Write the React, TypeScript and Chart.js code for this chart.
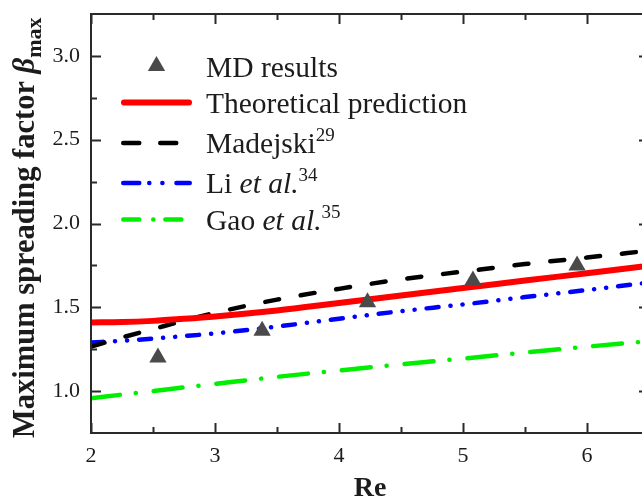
import { useEffect, useRef } from "react";
import { Chart, registerables } from "chart.js";

Chart.register(...registerables);

// Reynolds numbers at which the model curves are sampled
const reGrid = [2.0, 2.25, 2.5, 2.75, 3.0, 3.5, 4.0, 4.5, 5.0, 5.5, 6.0, 6.5];
const theoretical = [1.41, 1.412, 1.419, 1.431, 1.445, 1.481, 1.526, 1.571, 1.615, 1.66, 1.703, 1.748];
const madejski = [1.265, 1.32, 1.37, 1.42, 1.467, 1.546, 1.61, 1.667, 1.713, 1.758, 1.797, 1.838];
const liEtAl = [1.29, 1.3, 1.313, 1.328, 1.344, 1.385, 1.432, 1.477, 1.517, 1.561, 1.603, 1.648];
const gaoEtAl = [0.957, 0.979, 1.0, 1.022, 1.043, 1.085, 1.123, 1.16, 1.194, 1.23, 1.265, 1.298];

// Molecular dynamics results
const mdRe = [2.54, 3.38, 4.23, 5.08, 5.92];
const mdBeta = [1.2, 1.36, 1.53, 1.66, 1.75];

const xTickValues = [2, 3, 4, 5, 6];
const yTickValues = [1.0, 1.5, 2.0, 2.5, 3.0];

const X_MIN = 2;
const X_MAX = 6.5;
const Y_MIN = 0.75;
const Y_MAX = 3.25;

const SERIF = "'Liberation Serif', 'Times New Roman', Times, serif";
const INK = "#1c1c1c";

const toPoints = (xs: number[], ys: number[]) => xs.map((x, i) => ({ x, y: ys[i] }));

// Dash patterns (round caps add roughly the line width to each dash)
const DASH_MADEJSKI = [14, 22];
const DASH_LI = [12, 12, 0.1, 12, 0.1, 12];
const DASH_GAO = [29, 16, 0.1, 18];

const framePlugin = {
  id: "frameAndTicks",
  afterDatasetsDraw(chart: any) {
    const { ctx, chartArea: a, scales } = chart;
    const xs = scales.x;
    const ys = scales.y;
    ctx.save();
    ctx.strokeStyle = "#2a2a2a";
    ctx.lineWidth = 2;
    ctx.lineCap = "butt";
    ctx.strokeRect(a.left, a.top, a.right - a.left, a.bottom - a.top);

    ctx.beginPath();
    for (let v = X_MIN; v <= X_MAX + 1e-9; v += 0.5) {
      const major = Math.abs(v - Math.round(v)) < 1e-9;
      const len = major ? 10 : 6;
      const px = Math.round(xs.getPixelForValue(v)) + 0.5;
      ctx.moveTo(px, a.bottom);
      ctx.lineTo(px, a.bottom - len);
      ctx.moveTo(px, a.top);
      ctx.lineTo(px, a.top + len);
    }
    for (let v = 1.0; v <= 3.0 + 1e-9; v += 0.25) {
      const major = Math.abs(v * 2 - Math.round(v * 2)) < 1e-9;
      const len = major ? 10 : 6;
      const py = Math.round(ys.getPixelForValue(v)) + 0.5;
      ctx.moveTo(a.left, py);
      ctx.lineTo(a.left + len, py);
      ctx.moveTo(a.right, py);
      ctx.lineTo(a.right - len, py);
    }
    ctx.stroke();
    ctx.restore();
  },
};

type Run = { text: string; font: string; dy?: number };

function drawRuns(ctx: CanvasRenderingContext2D, runs: Run[], x: number, y: number) {
  let cx = x;
  for (const r of runs) {
    ctx.font = r.font;
    ctx.fillText(r.text, cx, y + (r.dy || 0));
    cx += ctx.measureText(r.text).width;
  }
  return cx;
}

const labelsPlugin = {
  id: "legendAndTitles",
  afterDraw(chart: any) {
    const ctx: CanvasRenderingContext2D = chart.ctx;
    ctx.save();
    ctx.fillStyle = INK;
    ctx.textBaseline = "alphabetic";
    ctx.textAlign = "left";

    const main = `29.5px ${SERIF}`;
    const ital = `italic 29.5px ${SERIF}`;
    const sup = `19px ${SERIF}`;
    const textX = 206;
    const x0 = 121;
    const x1 = 192;

    // MD results marker
    const tx = 156.5;
    const ty = 66;
    const r = 10;
    ctx.beginPath();
    ctx.moveTo(tx, ty - r);
    ctx.lineTo(tx + r * Math.sin((2 * Math.PI) / 3), ty - r * Math.cos((2 * Math.PI) / 3));
    ctx.lineTo(tx + r * Math.sin((4 * Math.PI) / 3), ty - r * Math.cos((4 * Math.PI) / 3));
    ctx.closePath();
    ctx.fillStyle = "#4a4a4a";
    ctx.fill();
    ctx.fillStyle = INK;
    drawRuns(ctx, [{ text: "MD results", font: main }], textX, 76.5);

    const sample = (y: number, color: string, width: number, dash: number[]) => {
      ctx.save();
      ctx.strokeStyle = color;
      ctx.lineWidth = width;
      ctx.lineCap = "round";
      ctx.setLineDash(dash);
      ctx.beginPath();
      ctx.moveTo(x0 + width / 2, y);
      ctx.lineTo(x1 - width / 2, y);
      ctx.stroke();
      ctx.restore();
    };

    sample(102.5, "#ff0000", 6, []);
    drawRuns(ctx, [{ text: "Theoretical prediction", font: main }], textX, 112.5);

    sample(143, "#000000", 4.5, [16, 21]);
    drawRuns(ctx, [
      { text: "Madejski", font: main },
      { text: "29", font: sup, dy: -12 },
    ], textX, 153);

    sample(183, "#0000ff", 4.5, [16, 10, 0.1, 13, 0.1, 14]);
    drawRuns(ctx, [
      { text: "Li ", font: main },
      { text: "et al.", font: ital },
      { text: "34", font: sup, dy: -12 },
    ], textX, 193);

    sample(219.5, "#00ee00", 4.5, [16, 14, 0.1, 12]);
    drawRuns(ctx, [
      { text: "Gao ", font: main },
      { text: "et al.", font: ital },
      { text: "35", font: sup, dy: -12 },
    ], textX, 229.5);

    // x-axis title
    ctx.font = `bold 28px ${SERIF}`;
    ctx.textAlign = "center";
    ctx.fillText("Re", 370, 496);

    // y-axis title, read bottom to top
    ctx.textAlign = "left";
    ctx.translate(34, 438);
    ctx.rotate(-Math.PI / 2);
    drawRuns(ctx, [
      { text: "Maximum spreading factor ", font: `bold 30.5px ${SERIF}` },
      { text: "\u03B2", font: `bold italic 30.5px ${SERIF}` },
      { text: "max", font: `bold 22px ${SERIF}`, dy: 7 },
    ], 0, 0);
    ctx.restore();
  },
};

export default function App() {
  const canvasRef = useRef<HTMLCanvasElement>(null);

  useEffect(() => {
    const canvas = canvasRef.current;
    if (!canvas) return;
    const lineDs = (label: string, ys: number[], color: string, width: number, dash: number[]) => ({
      label,
      data: toPoints(reGrid, ys),
      showLine: true,
      borderColor: color,
      borderWidth: width,
      borderDash: dash,
      borderCapStyle: dash.length ? "round" : "butt",
      pointRadius: 0,
      pointHoverRadius: 0,
      cubicInterpolationMode: "monotone",
      fill: false,
    });

    const chart = new Chart(canvas, {
      type: "scatter",
      data: {
        datasets: [
          {
            label: "MD results",
            data: toPoints(mdRe, mdBeta),
            pointStyle: "triangle",
            pointRadius: 10,
            pointHoverRadius: 10,
            backgroundColor: "#4a4a4a",
            borderColor: "#4a4a4a",
            borderWidth: 0,
            showLine: false,
          },
          lineDs("Theoretical prediction", theoretical, "#ff0000", 6, []),
          lineDs("Madejski", madejski, "#000000", 4.5, DASH_MADEJSKI),
          lineDs("Li et al.", liEtAl, "#0000ff", 4.5, DASH_LI),
          lineDs("Gao et al.", gaoEtAl, "#00ee00", 4.5, DASH_GAO),
        ] as any,
      },
      options: {
        responsive: false,
        animation: false,
        devicePixelRatio: 1,
        events: [],
        layout: { padding: { top: 14, right: 11, left: 0, bottom: 0 } },
        plugins: {
          legend: { display: false },
          tooltip: { enabled: false },
          title: { display: false },
        },
        scales: {
          x: {
            type: "linear",
            min: X_MIN,
            max: X_MAX,
            grid: { display: false, drawTicks: false },
            border: { display: false },
            afterBuildTicks: (s: any) => {
              s.ticks = xTickValues.map((value) => ({ value }));
            },
            afterFit: (s: any) => {
              s.height = 66;
              s.paddingLeft = 0;
              s.paddingRight = 0;
            },
            ticks: {
              padding: 10,
              color: INK,
              font: { family: SERIF, size: 22 },
              callback: (v: any) => String(v),
            },
          },
          y: {
            type: "linear",
            min: Y_MIN,
            max: Y_MAX,
            grid: { display: false, drawTicks: false },
            border: { display: false },
            afterBuildTicks: (s: any) => {
              s.ticks = yTickValues.map((value) => ({ value }));
            },
            afterFit: (s: any) => {
              s.width = 91;
              s.paddingTop = 0;
              s.paddingBottom = 0;
            },
            ticks: {
              padding: 11,
              color: INK,
              font: { family: SERIF, size: 22 },
              callback: (v: any) => Number(v).toFixed(1),
            },
          },
        },
      },
      plugins: [framePlugin, labelsPlugin],
    });
    return () => chart.destroy();
  }, []);

  return (
    <div
      style={{
        position: "absolute",
        left: 0,
        top: 0,
        width: 642,
        height: 499,
        overflow: "hidden",
        background: "#ffffff",
      }}
    >
      <canvas ref={canvasRef} width={660} height={499} style={{ display: "block", width: 660, height: 499 }} />
    </div>
  );
}
